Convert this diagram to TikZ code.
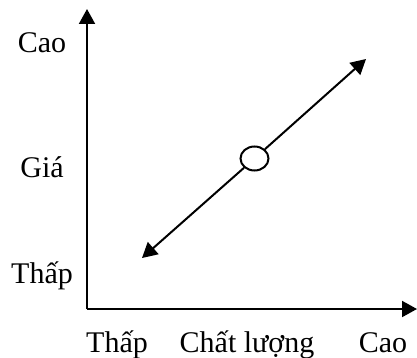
\documentclass[tikz,border=0pt]{standalone}
\usepackage{fontspec}
\setmainfont{Liberation Serif}
\usetikzlibrary{arrows.meta,shapes.geometric}
\tikzset{lbl/.style={anchor=base,inner sep=0pt}}
\begin{document}
\begin{tikzpicture}[x=0.5pt,y=-0.5pt,>={Triangle[length=7.5pt,width=8pt]},line width=1pt,font=\fontsize{15}{18}\selectfont]
\useasboundingbox (0,0) rectangle (417,358);
% axes
\coordinate (O) at (87,309);
\coordinate (Ytip) at (87,9);
\coordinate (Xtip) at (417,309);
\draw[->] (O)--(Ytip);
\draw[->] (O)--(Xtip);
% price labels
\node[lbl] (priceHi) at (42,53){Cao};
\node[lbl] (priceMid) at (42,177){Giá};
\node[lbl] (priceLo) at (42,283){Thấp};
% quality labels
\node[lbl] (qualLo) at (117,352){Thấp};
\node[lbl] (qualMid) at (247,352){Chất lượng};
\node[lbl] (qualHi) at (383,352){Cao};
% diagonal
\coordinate (Lo) at (142,258);
\coordinate (Hi) at (366,59);
\node[draw,ellipse,fill=white,inner sep=0pt,minimum width=14pt,minimum height=12pt] (M) at (254.5,158.5){};
\draw[->] (M)--(Hi);
\draw[->] (M)--(Lo);
\end{tikzpicture}
\end{document}
